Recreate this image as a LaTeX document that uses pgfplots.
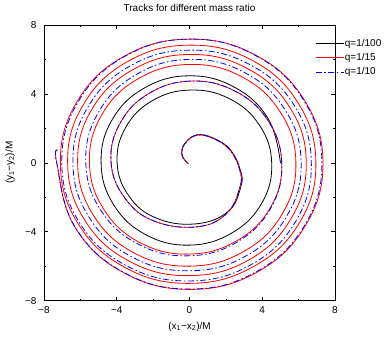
\documentclass[border=0pt]{standalone}
\usepackage{fontspec}
\setmainfont{Liberation Sans}
\usepackage{pgfplots}
\pgfplotsset{compat=1.18}
\begin{document}
\begin{tikzpicture}[x=1pt,y=1pt]
\path (0,0) rectangle (384,337);
\begin{axis}[
  at={(44pt,36.4pt)}, anchor=south west,
  scale only axis, width=291pt, height=275.6pt,
  xmin=-8, xmax=8, ymin=-8, ymax=8,
  xtick={-8,-4,0,4,8}, ytick={-8,-4,0,4,8},
  xticklabels={−8,−4,0,4,8}, yticklabels={−8,−4,0,4,8},
  minor xtick={-6,-2,2,6}, minor ytick={-6,-2,2,6},
  tick align=inside,
  major tick length=4pt, minor tick length=2pt,
  tick style={black, line width=0.5pt},
  axis line style={line width=0.6pt},
  ticklabel style={font=\fontsize{10}{12}\selectfont},
  xticklabel style={yshift=-2pt},
  yticklabel style={xshift=-4pt},
  title={Tracks for different mass ratio},
  title style={at={(0.5,1)}, anchor=center, yshift=11pt, font=\fontsize{10}{12}\selectfont},
  xlabel={(x\textsubscript{1}−x\textsubscript{2})/M},
  ylabel={(y\textsubscript{1}−y\textsubscript{2})/M},
  xlabel style={at={(0.5,0)}, anchor=center, yshift=-26pt, font=\fontsize{10}{12}\selectfont},
  ylabel style={at={(0,0.5)}, anchor=center, yshift=34pt, font=\fontsize{10}{12}\selectfont},
  legend style={draw=none, fill=none, at={(0.931,0.953)}, anchor=north west,
    inner sep=0pt, font=\fontsize{10}{12}\selectfont, row sep=3.5pt,
    nodes={inner sep=1pt}},
  legend cell align=left,
  legend image code/.code={\draw[#1] (0pt,0pt) -- (28pt,0pt);},
]
\addplot[black, line width=0.8pt, smooth, tension=0.7] coordinates {
(5.00,0) (4.35,2.51) (2.52,4.36) (0,5.05) (-2.50,4.33) (-4.27,2.47) (-4.86,0) (-4.18,-2.42) (-2.41,-4.17) (0,-4.78) (2.35,-4.06) (3.99,-2.31) (4.52,0) (3.83,2.21) (2.16,3.74) (0,4.22) (-2.07,3.59) (-3.52,2.03) (-3.98,0) (-3.33,-1.93) (-1.85,-3.20) (0.3,-3.55) (2.1,-2.85) (2.82,-1.4) (2.8,-0.44) (2.25,0.75) (1.32,1.43) (0.4,1.62) (-0.25,1.12) (-0.43,0.53) (-0.25,0.15) (-0.07,-0.05)
};
\addlegendentry{q=1/100}
\addplot[red, line width=0.8pt, smooth, tension=0.7] coordinates {
(-7.26,0.76) (-7.30,0) (-6.34,-3.66) (-3.67,-6.35) (0,-7.35) (3.68,-6.37) (6.36,-3.67) (7.34,0) (6.31,3.65) (3.62,6.26) (0,7.18) (-3.58,6.19) (-6.17,3.57) (-7.10,0) (-6.12,-3.54) (-3.52,-6.09) (0,-7.00) (3.49,-6.04) (6.04,-3.49) (6.95,0) (5.98,3.46) (3.44,5.95) (0,6.83) (-3.40,5.88) (-5.84,3.37) (-6.70,0) (-5.76,-3.33) (-3.30,-5.72) (0,-6.55) (3.26,-5.64) (5.59,-3.23) (6.42,0) (5.53,3.19) (3.17,5.48) (0,6.29) (-3.12,5.40) (-5.37,3.10) (-6.15,0) (-5.28,-3.05) (-3.03,-5.24) (0,-6.00) (2.98,-5.15) (5.11,-2.95) (5.85,0) (5.02,2.90) (2.88,4.99) (0,5.71) (-2.82,4.88) (-4.82,2.79) (-5.50,0) (-4.70,-2.72) (-2.69,-4.65) (0,-5.30) (2.61,-4.52) (4.46,-2.58) (5.07,0) (4.30,2.48) (2.43,4.20) (0,4.74) (-2.30,3.98) (-3.85,2.23) (-4.31,0) (-3.55,-2.05) (-1.95,-3.38) (0.4,-3.72) (2.04,-2.95) (2.77,-1.41) (2.77,-0.44) (2.23,0.73) (1.31,1.41) (0.4,1.6) (-0.25,1.12) (-0.43,0.53) (-0.25,0.15) (-0.07,-0.05)
};
\addlegendentry{q=1/15}
\addplot[blue, line width=0.8pt, smooth, tension=0.7, dash pattern=on 6pt off 2.5pt on 1.5pt off 2.5pt] coordinates {
(-7.26,0.76) (-7.30,0) (-6.33,-3.66) (-3.66,-6.34) (0,-7.33) (3.66,-6.33) (6.32,-3.65) (7.28,0) (6.28,3.63) (3.61,6.24) (0,7.18) (-3.57,6.17) (-6.12,3.54) (-7.02,0) (-6.04,-3.49) (-3.46,-5.98) (0,-6.86) (3.41,-5.90) (5.85,-3.38) (6.70,0) (5.76,3.33) (3.30,5.71) (0,6.54) (-3.25,5.63) (-5.59,3.23) (-6.41,0) (-5.51,-3.18) (-3.16,-5.47) (0,-6.27) (3.12,-5.40) (5.35,-3.09) (6.14,0) (5.27,3.05) (3.03,5.24) (0,6.00) (-2.95,5.11) (-5.02,2.90) (-5.70,0) (-4.85,-2.80) (-2.75,-4.76) (0,-5.40) (2.65,-4.58) (4.49,-2.59) (5.07,0) (4.30,2.48) (2.43,4.20) (0,4.74) (-2.30,3.98) (-3.85,2.23) (-4.31,0) (-3.55,-2.05) (-1.95,-3.38) (0.4,-3.72) (2.04,-2.95) (2.77,-1.41) (2.77,-0.44) (2.23,0.73) (1.31,1.41) (0.4,1.6) (-0.25,1.12) (-0.43,0.53) (-0.25,0.15) (-0.07,-0.05)
};
\addlegendentry{q=1/10}
\end{axis}
\end{tikzpicture}
\end{document}
